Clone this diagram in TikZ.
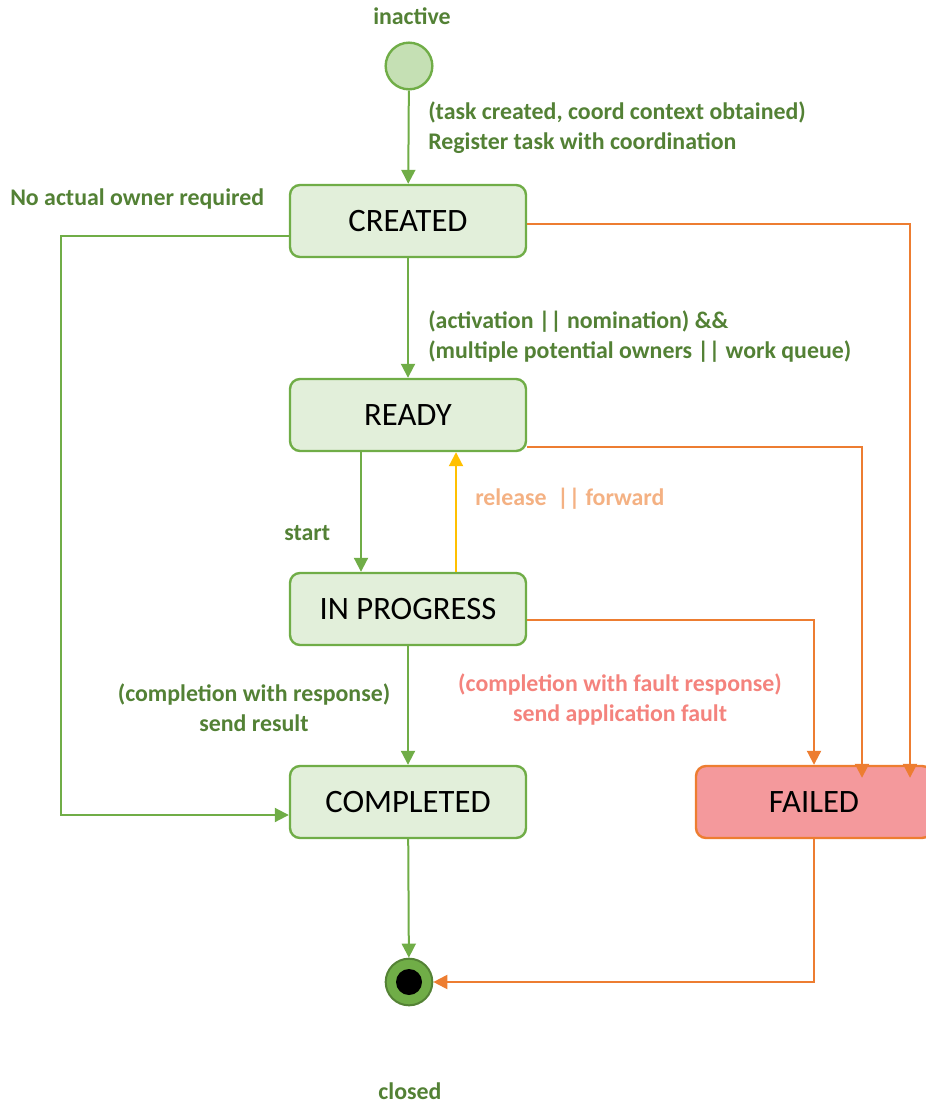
\documentclass[tikz,border=0pt]{standalone}
\usepackage{fontspec}
\setmainfont{Carlito}
\usetikzlibrary{arrows.meta,calc}
\definecolor{gline}{HTML}{70AD47}
\definecolor{gdark}{HTML}{548235}
\definecolor{gtext}{HTML}{538135}
\definecolor{gfill}{HTML}{E2EFDA}
\definecolor{ifill}{HTML}{C5E0B4}
\definecolor{oline}{HTML}{ED7D31}
\definecolor{ffill}{HTML}{F4999C}
\definecolor{yline}{HTML}{FFC000}
\definecolor{reltext}{HTML}{F4B183}
\definecolor{faulttext}{HTML}{F4837D}
\begin{document}
\begin{tikzpicture}[x=0.75pt,y=-0.75pt,
  statebox/.style={draw=gline, fill=gfill, rounded corners=7.5pt, line width=1.8pt,
    minimum width=177pt, minimum height=54pt, inner sep=0pt,
    font=\fontsize{24.5}{28}\selectfont},
  failbox/.style={statebox, draw=oline, fill=ffill},
  lbl/.style={text=gtext, font=\bfseries\fontsize{17.9}{22.5}\selectfont, inner sep=0pt},
  tip/.style={-{Triangle[length=10.5pt,width=10.5pt]}},
  garrow/.style={draw=gline, line width=1.5pt, tip},
  oarrow/.style={draw=oline, line width=1.5pt, tip},
  yarrow/.style={draw=yline, line width=1.5pt, tip}]
\useasboundingbox (0,0) rectangle (925,1105);

\node[circle, draw=gline, fill=ifill, line width=1.8pt, minimum size=35pt, inner sep=0pt] (init) at (409,66) {};
\node[statebox] (created) at (408,221) {CREATED};
\node[statebox] (ready) at (408,415) {READY};
\node[statebox] (inprog) at (408,609) {IN PROGRESS};
\node[statebox] (completed) at (408,802) {COMPLETED};
\node[failbox] (failed) at (814,802) {FAILED};
\node[circle, draw=gdark, fill=gline, line width=1.5pt, minimum size=35pt, inner sep=0pt] (final) at (409,982) {};
\node[circle, fill=black, minimum size=19.5pt, inner sep=0pt] (finaldot) at (final) {};

\node[lbl] (linactive) at (412,16) {inactive};
\node[lbl] (lclosed) at (410,1091) {closed};
\node[lbl, anchor=west, align=left] (l1) at (428,128) {(task created, coord context obtained)\\Register task with coordination};
\node[lbl, anchor=west, align=left] (l2) at (428,337) {(activation || nomination) \&\&\\(multiple potential owners || work queue)};
\node[lbl, anchor=west] (l3) at (10,199) {No actual owner required};
\node[lbl, anchor=west] (l4) at (284,533) {start};
\node[lbl, anchor=west, text=reltext] (l5) at (475,499) {release~~|| forward};
\node[lbl, align=center] (l6) at (254,708) {(completion with response)\\send result};
\node[lbl, align=center, text=faulttext] (l7) at (620,700) {(completion with fault response)\\send application fault};

\draw[garrow] (init) -- (created);
\draw[garrow] (created) -- (ready);
\draw[garrow] ($(ready.south)+(-47,0)$) -- ($(inprog.north)+(-47,0)$);
\draw[yarrow] ($(inprog.north)+(48,0)$) -- ($(ready.south)+(48,0)$);
\draw[garrow] (inprog) -- (completed);
\draw[garrow] (completed) -- (final);
\draw[garrow] ($(created.west)+(0,15)$) -- ++(-228,0) |- ($(completed.west)+(0,13)$);
\draw[oarrow] ($(created.east)+(0,3)$) -| ($(failed.north)+(96,13)$);
\draw[oarrow] ($(ready.east)+(0,32)$) -| ($(failed.north)+(48,13)$);
\draw[oarrow] ($(inprog.east)+(0,11)$) -| (failed.north);
\draw[oarrow] (failed.south) |- (final.east);
\end{tikzpicture}
\end{document}
